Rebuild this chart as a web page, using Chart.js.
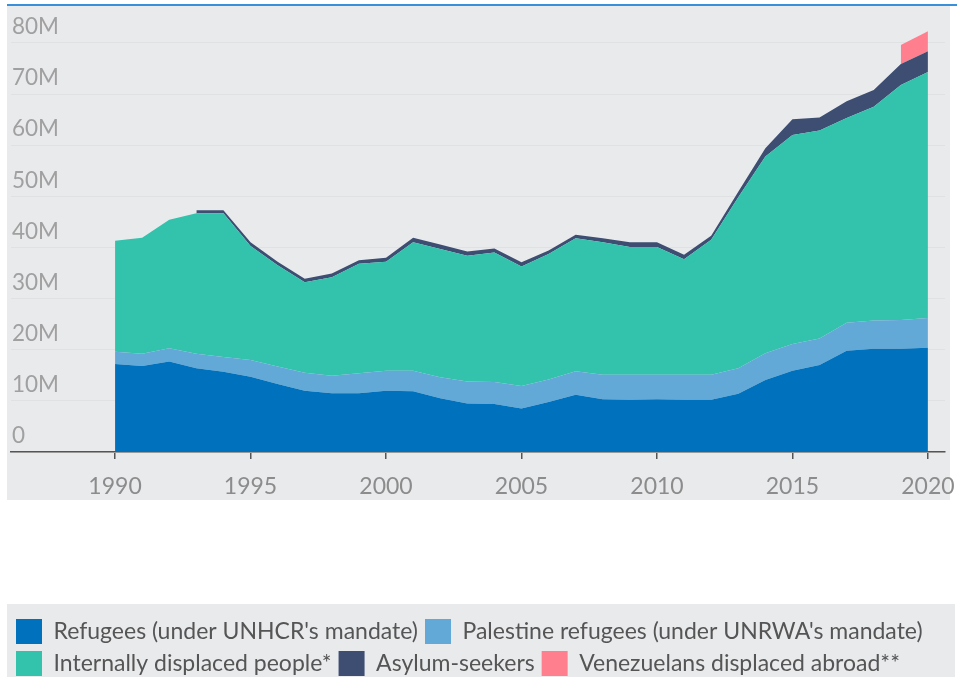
<!DOCTYPE html>
<html>
<head>
<meta charset="utf-8">
<script src="https://cdn.jsdelivr.net/npm/chart.js@4.4.0/dist/chart.umd.min.js"></script>
<style>
  html, body { margin: 0; padding: 0; background: #fff; overflow: hidden; }
  #wrap { width: 957px; height: 686px; position: relative; }
</style>
</head>
<body>
<div id="wrap"><canvas id="chart"></canvas></div>
<script>
// values in millions
const years = [1990, 1991, 1992, 1993, 1994, 1995, 1996, 1997, 1998, 1999,
               2000, 2001, 2002, 2003, 2004, 2005, 2006, 2007, 2008, 2009,
               2010, 2011, 2012, 2013, 2014, 2015, 2016, 2017, 2018, 2019, 2020];

const refugees = [17.2, 16.8, 17.7, 16.4, 15.7, 14.7, 13.3, 12.0, 11.5, 11.5,
                  12.0, 11.9, 10.5, 9.5, 9.4, 8.5, 9.8, 11.2, 10.3, 10.2,
                  10.3, 10.2, 10.2, 11.4, 14.1, 15.9, 17.0, 19.8, 20.2, 20.2, 20.4];

const palestine = [2.4, 2.4, 2.6, 2.8, 2.9, 3.3, 3.4, 3.5, 3.4, 3.9,
                   3.9, 4.0, 4.1, 4.3, 4.3, 4.4, 4.4, 4.6, 4.8, 4.9,
                   4.8, 4.9, 4.9, 5.0, 5.2, 5.2, 5.2, 5.5, 5.5, 5.6, 5.8];

const idps = [21.7, 22.7, 25.1, 27.5, 28.1, 22.3, 19.8, 17.7, 19.3, 21.4,
              21.3, 25.1, 25.1, 24.6, 25.3, 23.4, 24.5, 26.0, 25.9, 25.0,
              25.0, 22.6, 26.4, 33.4, 38.5, 40.9, 40.7, 40.0, 41.8, 46.0, 48.1];

const asylum = [null, null, null, 0.6, 0.6, 0.7, 0.7, 0.7, 0.7, 0.7,
                0.8, 0.9, 0.9, 0.8, 0.8, 0.8, 0.7, 0.7, 0.8, 0.9,
                0.9, 0.9, 0.8, 1.1, 1.6, 3.1, 2.5, 3.3, 3.3, 4.1, 4.1];

const venezuelans = [null, null, null, null, null, null, null, null, null, null,
                     null, null, null, null, null, null, null, null, null, null,
                     null, null, null, null, null, null, null, null, null, 3.7, 3.9];

const xTicks = [1990, 1995, 2000, 2005, 2010, 2015, 2020];
const yTicks = [0, 10, 20, 30, 40, 50, 60, 70, 80];

function points(vals) {
    return years.map((yr, i) => ({ x: yr, y: vals[i] })).filter(p => p.y !== null);
}

function area(label, vals, color, fill) {
    return {
        label: label,
        data: points(vals),
        backgroundColor: color,
        borderColor: color,
        borderWidth: 0,
        pointRadius: 0,
        pointHoverRadius: 0,
        tension: 0,
        fill: fill
    };
}

// grey panels behind the plot and the legend
const backdrop = {
    id: 'backdrop',
    beforeDraw(chart) {
        const ctx = chart.ctx;
        ctx.save();
        ctx.fillStyle = '#e9eaec';
        ctx.fillRect(7, 5, 943, 495);
        ctx.fillRect(7, 604, 948, 82);
        ctx.fillStyle = '#3a8fdb';
        ctx.fillRect(7, 4, 950, 2);
        ctx.restore();
    }
};

Chart.defaults.font.family = 'Lato, "Open Sans", sans-serif';

new Chart(document.getElementById('chart'), {
    type: 'line',
    data: {
        datasets: [
            area("Refugees (under UNHCR's mandate)", refugees, '#0071bc', 'origin'),
            area("Palestine refugees (under UNRWA's mandate)", palestine, '#63a9d8', '-1'),
            area('Internally displaced people*', idps, '#33c2ac', '-1'),
            area('Asylum-seekers', asylum, '#3d4e72', '-1'),
            area('Venezuelans displaced abroad**', venezuelans, '#ff7f8f', '-1')
        ]
    },
    options: {
        responsive: true,
        maintainAspectRatio: false,
        animation: false,
        layout: {
            // axis runs to 84M so the 2020 stack can rise above the 80M line
            padding: { top: 22.5, left: 9, right: 12, bottom: 0 }
        },
        plugins: {
            tooltip: { enabled: false },
            legend: {
                position: 'bottom',
                align: 'start',
                labels: {
                    boxWidth: 26,
                    boxHeight: 25,
                    padding: 7,
                    color: '#555',
                    font: { size: 23 }
                }
            }
        },
        scales: {
            x: {
                type: 'linear',
                min: 1986.16,
                max: 2020.63,
                afterBuildTicks: (axis) => {
                    axis.ticks = xTicks.map(v => ({ value: v }));
                },
                afterFit: (scale) => {
                    scale.height = 160;
                    scale.paddingLeft = 0;
                    scale.paddingRight = 0;
                },
                grid: {
                    drawOnChartArea: false,
                    drawTicks: true,
                    tickLength: 7,
                    color: '#555',
                    lineWidth: 1.5
                },
                border: { display: true, color: '#555', width: 1.5 },
                ticks: {
                    color: '#8c8c8c',
                    padding: 14,
                    maxRotation: 0,
                    font: { size: 23 },
                    callback: (v) => String(v)
                }
            },
            y: {
                stacked: true,
                min: 0,
                max: 84,
                afterBuildTicks: (axis) => {
                    axis.ticks = yTicks.map(v => ({ value: v }));
                },
                afterFit: (scale) => {
                    scale.width = 2;
                    scale.paddingTop = 0;
                },
                grid: {
                    color: '#e0e1e3',
                    lineWidth: 1,
                    drawTicks: false
                },
                border: { display: false },
                ticks: {
                    mirror: true,
                    padding: 1,
                    labelOffset: -16,
                    color: '#a0a0a0',
                    font: { size: 22.5 },
                    callback: (v) => v === 0 ? '0' : v + 'M'
                }
            }
        }
    },
    plugins: [backdrop]
});
</script>
</body>
</html>
